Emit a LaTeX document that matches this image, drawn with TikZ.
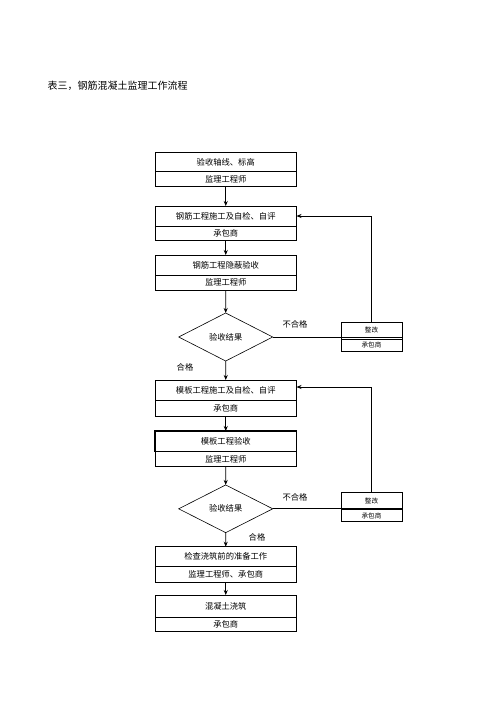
\documentclass[tikz,border=0pt]{standalone}
\usepackage{fontspec}
\newfontfamily\cjk{Noto Sans CJK SC}
\usetikzlibrary{shapes.geometric,arrows.meta}
\begin{document}
\begin{tikzpicture}[x=1pt,y=-1pt,
  part/.style={draw, line width=0.6pt, minimum width=141.5pt, inner sep=0pt, outer sep=0pt, font=\cjk\fontsize{8.3}{10}\selectfont},
  spart/.style={draw, line width=0.6pt, minimum width=61pt, inner sep=0pt, outer sep=0pt, font=\cjk\fontsize{6.6}{8}\selectfont},
  dec/.style={draw, diamond, line width=0.6pt, minimum width=94pt, inner sep=0pt, outer sep=0pt, font=\cjk\fontsize{8.3}{10}\selectfont},
  lbl/.style={font=\cjk\fontsize{8.3}{10}\selectfont, inner sep=0pt},
  arr/.style={-{Stealth[length=5pt,width=4pt]}, line width=0.7pt},
  ln/.style={line width=0.7pt}]
\useasboundingbox (0,0) rectangle (500,728);
\node[anchor=west, font=\cjk\fontsize{10}{12}\selectfont, inner sep=0pt] (title) at (47.5,86) {表三，钢筋混凝土监理工作流程};
% box 1
\node[part, anchor=north west, minimum height=19pt] (b1a) at (155,152.7) {验收轴线、标高};
\node[part, anchor=north, minimum height=15pt] (b1b) at (b1a.south) {监理工程师};
% box 2
\node[part, anchor=north west, minimum height=20pt] (b2a) at (155,206) {钢筋工程施工及自检、自评};
\node[part, anchor=north, minimum height=14pt] (b2b) at (b2a.south) {承包商};
% box 3
\node[part, anchor=north west, minimum height=20pt] (b3a) at (155,255) {钢筋工程隐蔽验收};
\node[part, anchor=north, minimum height=15pt] (b3b) at (b3a.south) {监理工程师};
% decision 1
\node[dec, minimum height=48pt] (d1) at (225.7,337) {验收结果};
% box 4
\node[part, anchor=north west, minimum height=20pt] (b4a) at (155,380) {模板工程施工及自检、自评};
\node[part, anchor=north, minimum height=16.7pt] (b4b) at (b4a.south) {承包商};
% box 5
\node[part, anchor=north west, minimum height=20.7pt, line width=1.1pt] (b5a) at (155,431) {模板工程验收};
\node[part, anchor=north, minimum height=15pt] (b5b) at (b5a.south) {监理工程师};
% decision 2
\node[dec, minimum height=47.7pt] (d2) at (225.7,508.8) {验收结果};
% box 6
\node[part, anchor=north west, minimum height=20pt] (b6a) at (155,546.7) {检查浇筑前的准备工作};
\node[part, anchor=north, minimum height=15.6pt] (b6b) at (b6a.south) {监理工程师、承包商};
% box 7
\node[part, anchor=north west, minimum height=22.3pt] (b7a) at (155,595) {混凝土浇筑};
\node[part, anchor=north, minimum height=13.7pt] (b7b) at (b7a.south) {承包商};
% small boxes
\node[spart, anchor=north west, minimum height=17pt] (s1a) at (341,322) {整改};
\node[spart, anchor=north, minimum height=12pt] (s1b) at (s1a.south) {承包商};
\node[spart, anchor=north west, minimum height=16.6pt] (s2a) at (341,492.7) {整改};
\node[spart, anchor=north, minimum height=12.4pt] (s2b) at (s2a.south) {承包商};
% labels
\node[lbl] (n1) at (295,324) {不合格};
\node[lbl] (p1) at (185,367) {合格};
\node[lbl] (n2) at (295,497) {不合格};
\node[lbl] (p2) at (257,537) {合格};
% connectors
\draw[arr] (b1b.south) -- (b2a.north);
\draw[arr] (b2b.south) -- (b3a.north);
\draw[arr] (b3b.south) -- (d1.north);
\draw[arr] (d1.south) -- (b4a.north);
\draw[arr] (b4b.south) -- (b5a.north);
\draw[arr] (b5b.south) -- (d2.north);
\draw[arr] (d2.south) -- (b6a.north);
\draw[arr] (b6b.south) -- (b7a.north);
\draw[ln] (d1.east) -- (d1.east -| s1a.east);
\draw[ln] (d2.east) -- (d2.east -| s2a.east);
\draw[arr] (s1a.north) |- (b2a.east);
\draw[arr] (s2a.north) |- ([yshift=3pt]b4a.east);
\end{tikzpicture}
\end{document}
